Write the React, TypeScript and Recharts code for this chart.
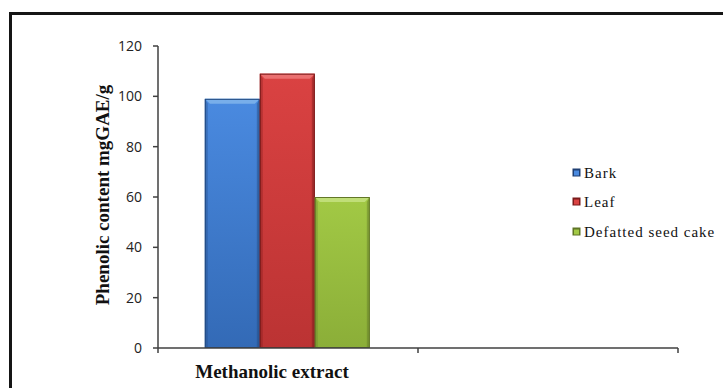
import React from "react";
import { BarChart, Bar, XAxis, YAxis, Legend } from "recharts";

// Extraction method categories (second slot is an empty category)
const categories = ["Methanolic extract", ""];

// Phenolic content (mg GAE/g) for each plant part
const barkValues = [99, null];
const leafValues = [109, null];
const seedCakeValues = [60, null];

const seriesNames = ["Bark", "Leaf", "Defatted seed cake"];
const yTicks = [0, 20, 40, 60, 80, 100, 120];

const SERIF = "'Liberation Serif', 'Times New Roman', serif";

const palettes = [
  { top: "#4a8ae0", bottom: "#336ab6", edge: "#22497f", bevel: "#78aeea", icon: "#1f3f73" },
  { top: "#da4242", bottom: "#bb3333", edge: "#7a1b1b", bevel: "#eb7070", icon: "#7a1b1b" },
  { top: "#a2c945", bottom: "#8bae38", edge: "#627727", bevel: "#c0de78", icon: "#5f7426" },
];

const data = categories.map((name, i) => ({
  name,
  bark: barkValues[i],
  leaf: leafValues[i],
  seed: seedCakeValues[i],
}));

const seriesKeys = ["bark", "leaf", "seed"];

const BevelBar = (props: any) => {
  const { x, y, width, height, pal, gid } = props;
  if (height == null || height <= 0 || width <= 0) return null;
  const b = 5;
  const s = 3;
  return (
    <g>
      <rect x={x} y={y} width={width} height={height} fill={`url(#${gid})`} />
      <polygon
        points={`${x},${y} ${x + s},${y + b} ${x + s},${y + height} ${x},${y + height}`}
        fill={pal.edge}
        opacity={0.35}
      />
      <polygon
        points={`${x + width},${y} ${x + width - s},${y + b} ${x + width - s},${y + height} ${x + width},${y + height}`}
        fill={pal.edge}
        opacity={0.45}
      />
      <polygon
        points={`${x},${y} ${x + width},${y} ${x + width - b},${y + b} ${x + b},${y + b}`}
        fill={pal.bevel}
      />
      <rect
        x={x + 0.5}
        y={y + 0.5}
        width={width - 1}
        height={height - 1}
        fill="none"
        stroke={pal.edge}
        strokeWidth={1}
      />
    </g>
  );
};

const HALF_BAND = 130;

const XTick = (props: any) => {
  const { x, y, payload, index } = props;
  const axisY = y - 8;
  return (
    <g>
      {index === 0 && (
        <line x1={x - HALF_BAND} y1={axisY} x2={x - HALF_BAND} y2={axisY + 5} stroke="#404040" strokeWidth={1.5} />
      )}
      <line x1={x + HALF_BAND} y1={axisY} x2={x + HALF_BAND} y2={axisY + 5} stroke="#404040" strokeWidth={1.5} />
      {payload.value ? (
        <text
          x={x - 16}
          y={378}
          textAnchor="middle"
          fontFamily={SERIF}
          fontWeight="bold"
          fontSize={19}
          fill="#111"
        >
          {payload.value}
        </text>
      ) : null}
    </g>
  );
};

const YTitle = () => (
  <text
    x={0}
    y={0}
    transform="translate(109,195) rotate(-90)"
    textAnchor="middle"
    fontFamily={SERIF}
    fontWeight="bold"
    fontSize={19}
    fill="#111"
  >
    Phenolic content mgGAE/g
  </text>
);

const LegendBox = () => (
  <div>
    {seriesNames.map((name, i) => (
      <div key={name} style={{ display: "flex", alignItems: "center", height: 29.5 }}>
        <svg width={10} height={10} style={{ marginRight: 2 }}>
          <rect x={0.5} y={0.5} width={8} height={8} fill={palettes[i].icon} />
          <rect x={2} y={2.5} width={5} height={5} fill={palettes[i].top} />
        </svg>
        <span
          style={{
            fontFamily: SERIF,
            fontSize: 15,
            color: "#111",
            letterSpacing: 1,
            lineHeight: "16px",
          }}
        >
          {name}
        </span>
      </div>
    ))}
  </div>
);

export default function App() {
  return (
    <div
      style={{
        position: "fixed",
        left: 0,
        top: 0,
        width: 723,
        height: 388,
        overflow: "hidden",
        background: "#fff",
      }}
    >
      <div
        style={{
          position: "absolute",
          left: 9,
          top: 12,
          width: 740,
          height: 400,
          border: "3px solid #151515",
          boxSizing: "border-box",
        }}
      />
      <div style={{ position: "absolute", left: 0, top: 0 }}>
        <BarChart
          width={723}
          height={388}
          data={data}
          margin={{ top: 46, right: 45, bottom: 0, left: 0 }}
          barCategoryGap="18%"
          barGap={0}
        >
          <defs>
            {palettes.map((p, i) => (
              <linearGradient key={i} id={`grad${i}`} x1="0" y1="0" x2="0" y2="1">
                <stop offset="0%" stopColor={p.top} />
                <stop offset="100%" stopColor={p.bottom} />
              </linearGradient>
            ))}
          </defs>
          <XAxis
            dataKey="name"
            height={40}
            interval={0}
            axisLine={{ stroke: "#404040", strokeWidth: 1.5 }}
            tickLine={false}
            tick={<XTick />}
          />
          <YAxis
            width={158}
            domain={[0, 120]}
            ticks={yTicks}
            interval={0}
            tickSize={5}
            tickMargin={11}
            axisLine={{ stroke: "#404040", strokeWidth: 1.5 }}
            tickLine={{ stroke: "#404040", strokeWidth: 1.5 }}
            tick={{ fill: "#222", fontSize: 14, fontFamily: "'Open Sans', 'Noto Sans', sans-serif" }}
            label={<YTitle />}
          />
          <Legend
            layout="vertical"
            align="center"
            verticalAlign="middle"
            wrapperStyle={{ left: 572, top: 158, width: 160 }}
            content={<LegendBox />}
          />
          {seriesKeys.map((k, i) => (
            <Bar
              key={k}
              dataKey={k}
              name={seriesNames[i]}
              fill={palettes[i].top}
              isAnimationActive={false}
              shape={(p: any) => <BevelBar {...p} pal={palettes[i]} gid={`grad${i}`} />}
            />
          ))}
        </BarChart>
      </div>
    </div>
  );
}
